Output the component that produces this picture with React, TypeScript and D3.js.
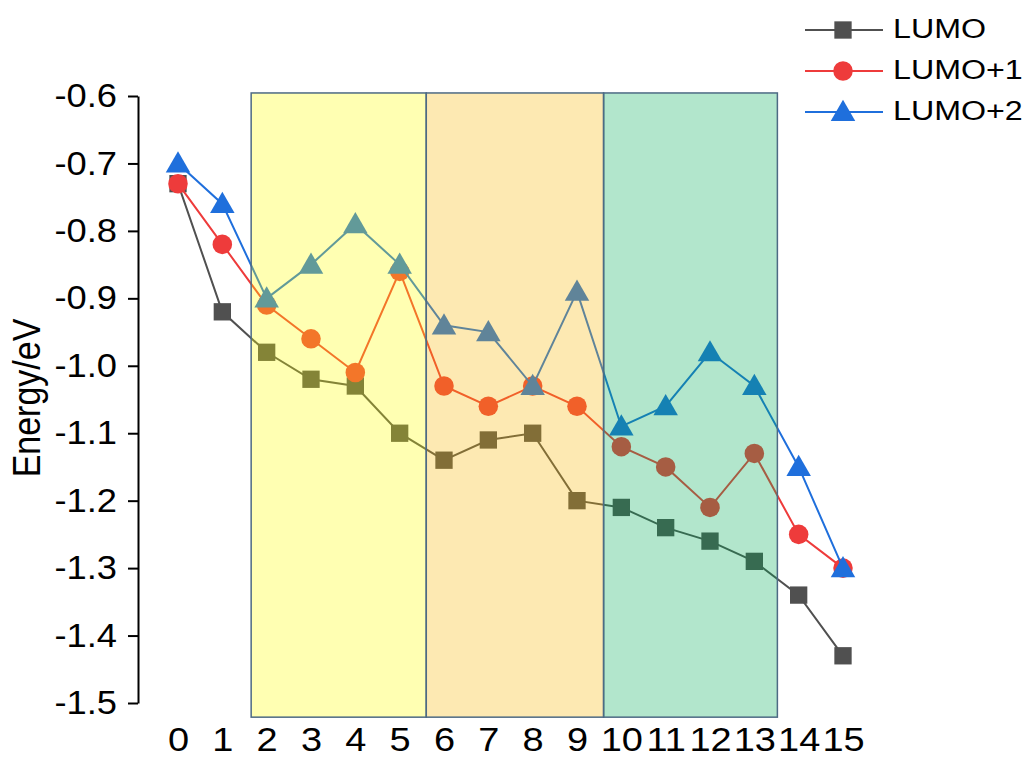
import React, { useRef, useEffect } from 'react';
import * as d3 from 'd3';

const xValues = [0, 1, 2, 3, 4, 5, 6, 7, 8, 9, 10, 11, 12, 13, 14, 15];
const lumo = [-0.73, -0.92, -0.98, -1.02, -1.03, -1.1, -1.14, -1.11, -1.1, -1.2, -1.21, -1.24, -1.26, -1.29, -1.34, -1.43];
const lumo1 = [-0.73, -0.82, -0.91, -0.96, -1.01, -0.86, -1.03, -1.06, -1.03, -1.06, -1.12, -1.15, -1.21, -1.13, -1.25, -1.3];
const lumo2 = [-0.7, -0.76, -0.9, -0.85, -0.79, -0.85, -0.94, -0.95, -1.03, -0.89, -1.09, -1.06, -0.98, -1.03, -1.15, -1.3];
const seriesNames = ['LUMO', 'LUMO+1', 'LUMO+2'];
const yTicks = [-0.6, -0.7, -0.8, -0.9, -1.0, -1.1, -1.2, -1.3, -1.4, -1.5];
const yTickLabels = ['-0.6', '-0.7', '-0.8', '-0.9', '-1.0', '-1.1', '-1.2', '-1.3', '-1.4', '-1.5'];
// shaded bands (x from, x to, fill)
const bandStarts = [1.65, 5.6, 9.6];
const bandEnds = [5.6, 9.6, 13.52];
const bandColors = ['#ffff00', '#f8b600', '#00ac55'];

const FONT = '"Liberation Sans", Arial, sans-serif';
const STRETCH = 1.15; // the original's text is a bit wider than Arial

export default function App() {
  const svgRef = useRef<SVGSVGElement>(null);
  const width = 1034;
  const height = 758;

  useEffect(() => {
    if (!svgRef.current) return;
    const svg = d3.select(svgRef.current);
    svg.selectAll('*').remove();

    const x = d3.scaleLinear().domain([0, 15]).range([178, 843]);
    const y = d3.scaleLinear().domain([-1.5, -0.6]).range([703, 96]);

    const series = [
      { name: seriesNames[0], values: lumo, color: '#505050', shape: d3.symbolSquare, size: 300 },
      { name: seriesNames[1], values: lumo1, color: '#ee3b3b', shape: d3.symbolCircle, size: 300 },
      { name: seriesNames[2], values: lumo2, color: '#1f6fdc', shape: d3.symbolTriangle, size: 260 },
    ];

    // y axis
    const yAxis = d3.axisLeft(y)
      .tickValues(yTicks)
      .tickFormat((_, i) => yTickLabels[i])
      .tickSize(10)
      .tickSizeOuter(0);
    const gy = svg.append('g').attr('transform', 'translate(138,0)').call(yAxis);
    gy.select('.domain').attr('stroke', '#000').attr('stroke-width', 2);
    gy.selectAll('.tick line').attr('stroke', '#000').attr('stroke-width', 2);
    gy.selectAll('.tick text')
      .attr('x', -21 / 1.1)
      .attr('transform', 'scale(1.1,1)')
      .attr('font-family', FONT)
      .attr('font-size', 33)
      .attr('fill', '#000');

    // x labels (no axis line)
    const xAxis = d3.axisBottom(x).tickValues(xValues).tickFormat(d3.format('d')).tickSize(0).tickPadding(0);
    const gx = svg.append('g').attr('transform', 'translate(0,751)').call(xAxis);
    gx.select('.domain').remove();
    gx.selectAll('.tick text')
      .attr('y', 0)
      .attr('dy', 0)
      .attr('transform', `scale(${STRETCH},1)`)
      .attr('font-family', FONT)
      .attr('font-size', 33)
      .attr('fill', '#000');

    // y label
    svg.append('text')
      .attr('transform', `translate(40,398) scale(${STRETCH},1) rotate(-90)`)
      .attr('text-anchor', 'middle')
      .attr('font-family', FONT)
      .attr('font-size', 34)
      .text('Energy/eV');

    // lines and markers
    const line = d3.line<number>().x((_, i) => x(xValues[i])).y(d => y(d));
    series.forEach(s => {
      svg.append('path')
        .attr('d', line(s.values))
        .attr('fill', 'none')
        .attr('stroke', s.color)
        .attr('stroke-width', 2);
      svg.append('g')
        .selectAll('path')
        .data(s.values)
        .enter()
        .append('path')
        .attr('d', d3.symbol().type(s.shape).size(s.size)())
        .attr('transform', (d, i) => `translate(${x(xValues[i])},${y(d) + (s.shape === d3.symbolTriangle ? 2 : 0)})`)
        .attr('fill', s.color);
    });

    // translucent bands drawn over the series
    const yTop = y(-0.5955);
    const yBot = y(-1.521);
    svg.append('g')
      .selectAll('rect')
      .data(bandStarts)
      .enter()
      .append('rect')
      .attr('x', d => x(d))
      .attr('y', yTop)
      .attr('width', (d, i) => x(bandEnds[i]) - x(d))
      .attr('height', yBot - yTop)
      .attr('fill', (_, i) => bandColors[i])
      .attr('fill-opacity', 0.3)
      .attr('stroke', '#4d6a84')
      .attr('stroke-width', 1.5);

    // legend
    const lg = svg.append('g');
    series.forEach((s, i) => {
      const ly = 30 + i * 41;
      lg.append('line')
        .attr('x1', 805).attr('x2', 883)
        .attr('y1', ly).attr('y2', ly)
        .attr('stroke', s.color).attr('stroke-width', 2);
      lg.append('path')
        .attr('d', d3.symbol().type(s.shape).size(s.size)())
        .attr('transform', `translate(843,${ly + (s.shape === d3.symbolTriangle ? 2 : 0)})`)
        .attr('fill', s.color);
      lg.append('text')
        .attr('transform', `translate(893,${ly - 2}) scale(${STRETCH},1)`)
        .attr('dy', '0.36em')
        .attr('font-family', FONT)
        .attr('font-size', 28)
        .text(s.name);
    });
  }, []);

  return (
    <svg
      ref={svgRef}
      width={width}
      height={height}
      style={{ position: 'absolute', left: 0, top: 0, background: '#fff' }}
    />
  );
}
